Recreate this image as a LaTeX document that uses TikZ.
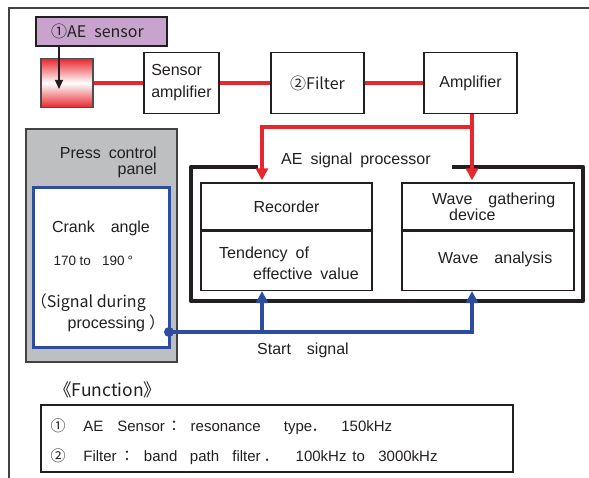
\documentclass[tikz,border=0pt]{standalone}
\usepackage{fontspec}
\setmainfont{Liberation Sans}
\newfontfamily\cjk{Noto Sans CJK JP}
\usetikzlibrary{arrows.meta}
\definecolor{aered}{HTML}{E8262E}
\definecolor{aepurple}{HTML}{C8A3CD}
\definecolor{aegray}{HTML}{BEBFC1}
\definecolor{aeblue}{HTML}{2E4C9F}
\definecolor{ink}{HTML}{231F20}
\newcommand\wsp{\hspace{0.5em}}
\newcommand\putat[2]{\rlap{\hspace{#1pt}#2}}
\begin{document}
\begin{tikzpicture}[x=1pt,y=-1pt,
  font=\fontsize{16}{20}\selectfont, text=ink,
  box/.style={draw=ink, line width=1.4pt, fill=white, inner sep=0pt},
  txt/.style={inner sep=0pt},
  redline/.style={draw=aered, line width=3.8pt},
  redarrow/.style={redline, -{Triangle[width=12pt,length=12pt]}},
  blueline/.style={draw=aeblue, line width=3.4pt},
  bluearrow/.style={blueline, -{Triangle[width=12pt,length=12pt]}}]
\useasboundingbox (0,0) rectangle (589,478);

% outer frame (top and left)
\draw[ink!85, line width=1.5pt] (589,8) -- (9,8) -- (9,478);

% sensor chain
\node[box, fill=aepurple, minimum width=131, minimum height=29] (lbl) at (101.5,31.5) {};
\node[txt, anchor=base west] (lbltxt) at (51,37.5) {\cjk{①}AE\wsp sensor};
\node[draw=ink!80, line width=1.2pt, minimum width=52, minimum height=49,
      top color=aered, bottom color=aered, middle color=white] (sens) at (67,83) {};
\coordinate (sarr) at (59,89);
\draw[ink, line width=1.3pt, -{Triangle[width=8pt,length=9pt]}] (lbl.south -| sarr) -- (sarr);

\node[box, minimum width=75, minimum height=61, align=left,
      font=\fontsize{16}{22}\selectfont] (samp) at (181.5,83) {Sensor\\amplifier};
\node[box, minimum width=93, minimum height=61] (filt) at (317.5,83) {\cjk{②}Filter};
\node[box, minimum width=93, minimum height=61] (amp) at (470.5,83) {Amplifier};

\draw[redline] (sens.east) -- (samp.west);
\draw[redline] (samp.east) -- (filt.west);
\draw[redline] (filt.east) -- (amp.west);

% AE signal processor
\node[minimum width=392, minimum height=134, inner sep=0pt] (proc) at (387,234) {};
\draw[ink, line width=3.6pt, line join=round]
  ([xshift=67]proc.north west) -- (proc.north west) -- (proc.south west)
  -- (proc.south east) -- (proc.north east) -- ([xshift=-131]proc.north east);
\node[txt, anchor=base west] (proclbl) at (281,165) {AE\wsp signal\wsp processor};

\node[box, minimum width=171, minimum height=47] (recT) at (286.5,206.5) {Recorder};
\node[box, minimum width=171, minimum height=59, anchor=north] (recB) at (recT.south) {};
\node[txt, anchor=north west, align=left, font=\fontsize{16}{21}\selectfont]
  (rectxt) at (219,246.3) {Tendency\wsp of\\\hspace{34pt}effective\wsp value};

\node[box, minimum width=172, minimum height=47] (waveT) at (488,206.5) {};
\node[box, minimum width=172, minimum height=59, anchor=north] (waveB) at (waveT.south) {};
\node[txt, anchor=north west, align=left, font=\fontsize{16}{16.7}\selectfont]
  (wavetxt) at (432,192.3) {Wave\wsp\wsp gathering\\\hspace{17pt}device};
\node[txt, anchor=base west] (wavean) at (438,264) {Wave\wsp\wsp analysis};

% red branch
\coordinate (jR) at (472,127);
\coordinate (jL) at (262,127);
\draw[redarrow, shorten >=2pt] (amp.south -| jR) -- (jR |- waveT.north);
\draw[redarrow, shorten >=2pt] (jR) -- (jL) -- (jL |- recT.north);

% press control panel
\node[draw=ink!85, line width=1.6pt, fill=aegray, minimum width=151, minimum height=233] (panel) at (101.5,245.5) {};
\node[txt, anchor=east, align=right, font=\fontsize{16}{16}\selectfont]
  (paneltxt) at (157,162) {Press\wsp control\hspace{7pt}\\panel};
\node[draw=aeblue, line width=3pt, fill=white, minimum width=136, minimum height=159] (crank) at (101,267.5) {};
\node[txt, anchor=base] (c1) at (101,233) {Crank\wsp\wsp angle};
\node[txt, anchor=base west, font=\fontsize{13.5}{16}\selectfont] (c2) at (0,265.5)
  {\putat{53}{170}\putat{79}{to}\putat{101.5}{190}\putat{127}{°}};
\node[txt, anchor=base west] (c3) at (30.7,307.5) {\cjk{（}Signal during};
\node[txt, anchor=base west] (c4) at (67.5,329) {processing\hspace{4pt}\cjk{）}};

% start signal
\node[circle, fill=aeblue, inner sep=0pt, minimum size=10] (dot) at (169,332) {};
\coordinate (bL) at (262,332);
\coordinate (bR) at (472,332);
\draw[bluearrow] (dot.center) -- (bR) -- (bR |- waveB.south);
\draw[bluearrow] (bL) -- (bL |- recB.south);
\node[txt, anchor=base west] (start) at (257,354) {Start\wsp\wsp signal};

% function
\node[txt, anchor=base west, font=\fontsize{17.5}{20}\selectfont] (fhead) at (54,396.5) {\cjk{《}Function\cjk{》}};
\node[draw=ink, line width=1.5pt, minimum width=472, minimum height=67] (fbox) at (277,438.5) {};
\node[txt, anchor=base west, font=\fontsize{15}{18}\selectfont] (f1) at (0,431.7) {%
  \putat{50}{\cjk{①}}\putat{82.7}{AE}\putat{116.7}{Sensor}\putat{166}{\cjk{：}}%
  \putat{190}{resonance}\putat{283.3}{type}\putat{311}{\cjk{．}}\putat{340.7}{150kHz}};
\node[txt, anchor=base west, font=\fontsize{15}{18}\selectfont] (f2) at (0,461.7) {%
  \putat{50}{\cjk{②}}\putat{82.7}{Filter}\putat{119}{\cjk{：}}\putat{143.3}{band}%
  \putat{189.3}{path}\putat{231.7}{filter}\putat{263}{\cjk{．}}\putat{295}{100kHz}%
  \putat{351.7}{to}\putat{377.7}{3000kHz}};
\end{tikzpicture}
\end{document}
